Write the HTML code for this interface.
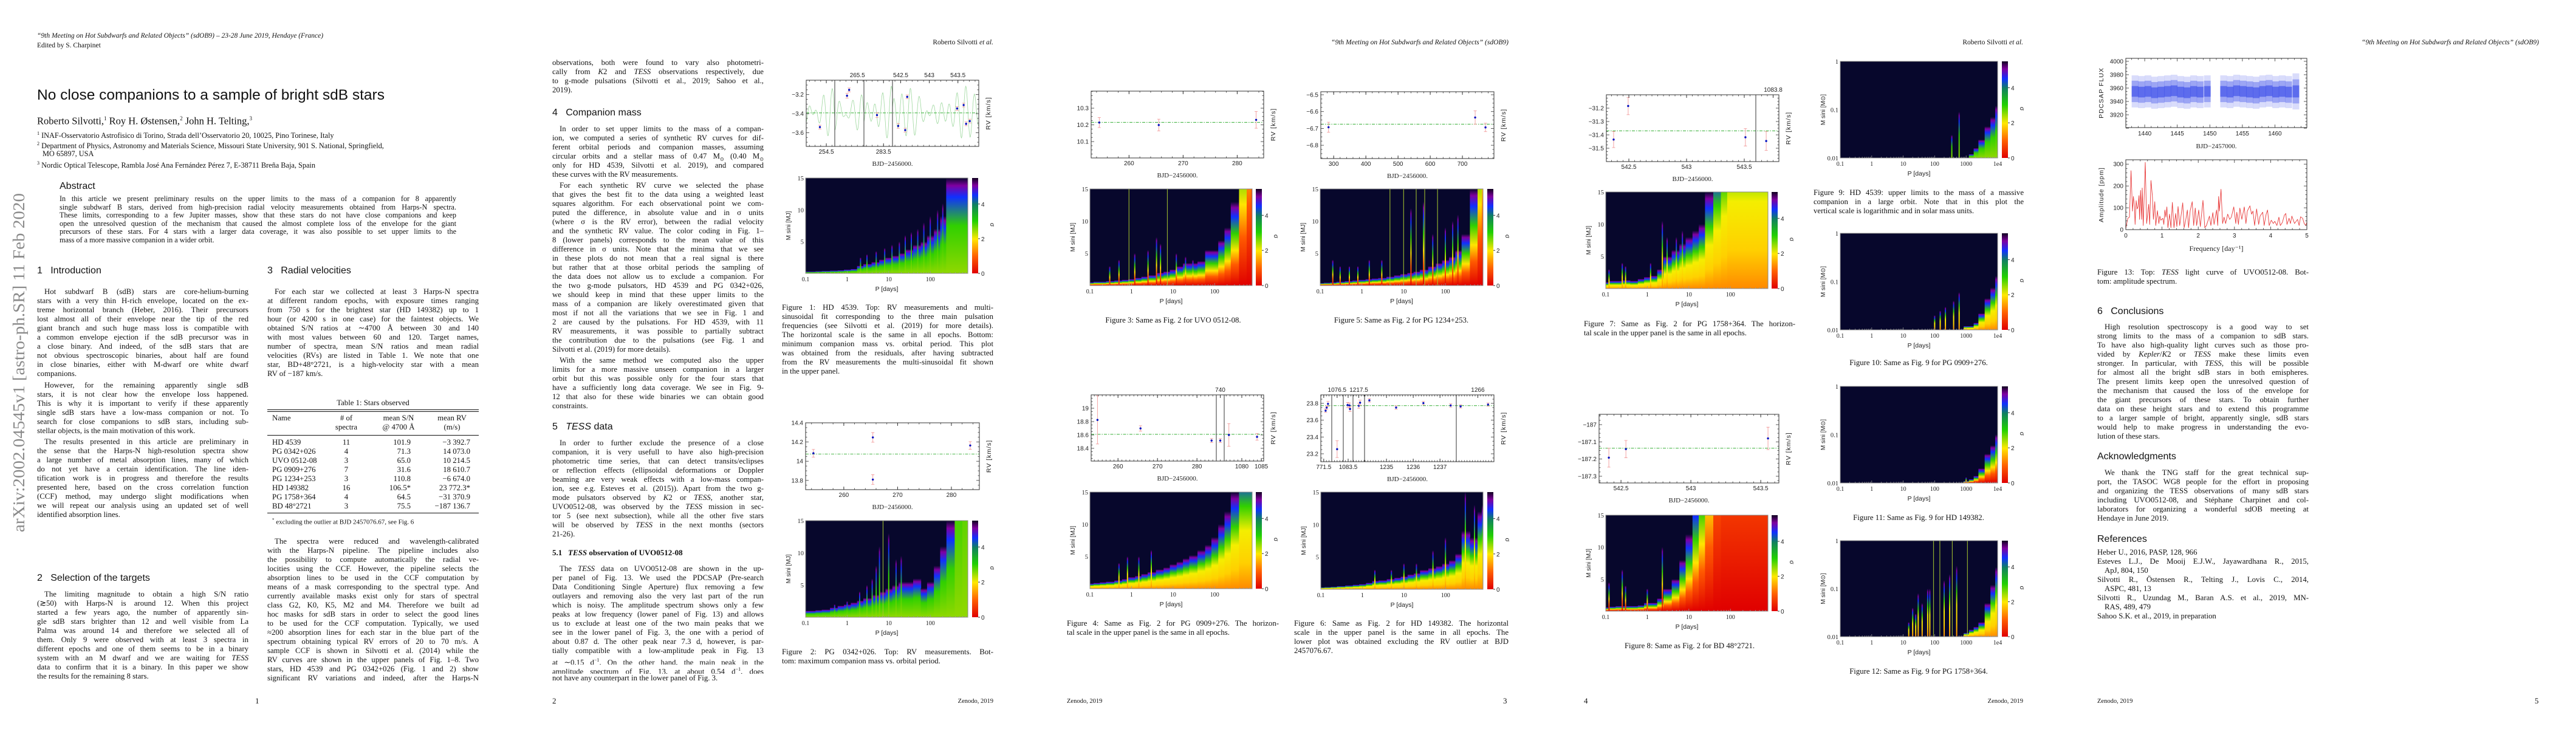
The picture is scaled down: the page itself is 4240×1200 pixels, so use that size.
<!DOCTYPE html>
<html><head><meta charset="utf-8"><title>No close companions to a sample of bright sdB stars</title>
<style>
html,body{margin:0;padding:0;background:#fff}
body{width:4240px;height:1200px;position:relative;overflow:hidden;font-family:"Liberation Serif",serif;color:#111}
.a{position:absolute;white-space:nowrap}
.blk{position:absolute}
.ln{height:15px;line-height:15px;font-size:12.8px;overflow:hidden;text-align:justify;text-align-last:justify}
.ln.e{text-align-last:left}
.ln.i{text-indent:12px}
.ab .ln{height:13.6px;line-height:13.6px;font-size:12.2px}
.sec{position:absolute;font-family:"Liberation Sans",sans-serif;font-size:16px;white-space:nowrap;line-height:18px}
.hdr{position:absolute;font-style:italic;font-size:11.5px;white-space:nowrap;line-height:14px}
.ft{position:absolute;font-size:10.5px;white-space:nowrap;line-height:12px}
.pn{position:absolute;font-size:13px;line-height:14px}
.tb{position:absolute;font-size:12.8px;line-height:15px;white-space:nowrap}
svg#charts{position:absolute;left:0;top:0}
</style></head>
<body>
<svg id="charts" width="4240" height="1200" style="font-family:'Liberation Sans',sans-serif">
<defs>
<linearGradient id="gr-r" x1="0" y1="1" x2="0" y2="0"><stop offset="0" stop-color="#e00000"/><stop offset=".25" stop-color="#ff5a00"/><stop offset=".42" stop-color="#ffe400"/><stop offset=".62" stop-color="#30d000"/><stop offset=".82" stop-color="#1030ff"/><stop offset=".93" stop-color="#8000a0"/><stop offset="1" stop-color="#08082e"/></linearGradient>
<linearGradient id="gr-y" x1="0" y1="1" x2="0" y2="0"><stop offset="0" stop-color="#ff8a00"/><stop offset=".2" stop-color="#ffd000"/><stop offset=".45" stop-color="#f4ee00"/><stop offset=".64" stop-color="#30d000"/><stop offset=".83" stop-color="#1030ff"/><stop offset=".93" stop-color="#8000a0"/><stop offset="1" stop-color="#08082e"/></linearGradient>
<linearGradient id="gr-g" x1="0" y1="1" x2="0" y2="0"><stop offset="0" stop-color="#90d800"/><stop offset=".5" stop-color="#30d000"/><stop offset=".8" stop-color="#1030ff"/><stop offset=".92" stop-color="#8000a0"/><stop offset="1" stop-color="#08082e"/></linearGradient>
<linearGradient id="gr-cb" x1="0" y1="1" x2="0" y2="0"><stop offset="0" stop-color="#e00000"/><stop offset=".18" stop-color="#ff6000"/><stop offset=".36" stop-color="#ffe800"/><stop offset=".55" stop-color="#20d000"/><stop offset=".72" stop-color="#108060"/><stop offset=".82" stop-color="#1030ff"/><stop offset=".92" stop-color="#8000a0"/><stop offset="1" stop-color="#100020"/></linearGradient>
</defs>
<text transform="translate(40,876) rotate(-90)" font-family="Liberation Serif, serif" font-size="27" fill="#8a8a8a" textLength="558" lengthAdjust="spacingAndGlyphs">arXiv:2002.04545v1  [astro-ph.SR]  11 Feb 2020</text>
</svg>

<!-- PAGE 1 -->
<div class="hdr" style="left:61px;top:52px">“9th Meeting on Hot Subdwarfs and Related Objects” (sdOB9) – 23-28 June 2019, Hendaye (France)</div>
<div class="a" style="left:61px;top:68px;font-size:11.5px;line-height:14px">Edited by S. Charpinet</div>
<div class="a" style="left:61px;top:142px;font-family:'Liberation Sans',sans-serif;font-size:24.5px;line-height:30px">No close companions to a sample of bright sdB stars</div>
<div class="a" style="left:61px;top:185px;font-size:16.5px;line-height:20px">Roberto Silvotti,<sup style="font-size:9px">1</sup> Roy H. Østensen,<sup style="font-size:9px">2</sup> John H. Telting,<sup style="font-size:9px">3</sup></div>
<div class="blk" style="left:61px;top:213px;font-size:12.3px;line-height:13px">
<div><sup style="font-size:8px">1</sup> INAF-Osservatorio Astrofisico di Torino, Strada dell’Osservatorio 20, 10025, Pino Torinese, Italy</div>
<div><sup style="font-size:8px">2</sup> Department of Physics, Astronomy and Materials Science, Missouri State University, 901 S. National, Springfield,</div>
<div style="padding-left:9px">MO 65897, USA</div>
<div style="margin-top:2px"><sup style="font-size:8px">3</sup> Nordic Optical Telescope, Rambla José Ana Fernández Pérez 7, E-38711 Breña Baja, Spain</div>
</div>
<div class="sec" style="left:98px;top:298px">Abstract</div>
<div class="blk ab" style="left:98px;top:321px;width:653px">
<div class="ln">In this article we present preliminary results on the upper limits to the mass of a companion for 8 apparently</div>
<div class="ln">single subdwarf B stars, derived from high-precision radial velocity measurements obtained from Harps-N spectra.</div>
<div class="ln">These limits, corresponding to a few Jupiter masses, show that these stars do not have close companions and keep</div>
<div class="ln">open the unresolved question of the mechanism that caused the almost complete loss of the envelope for the giant</div>
<div class="ln">precursors of these stars. For 4 stars with a larger data coverage, it was also possible to set upper limits to the</div>
<div class="ln e">mass of a more massive companion in a wider orbit.</div>
</div>

<div class="sec" style="left:61px;top:437px">1&nbsp;&nbsp;&nbsp;Introduction</div>
<div class="blk" style="left:61px;top:473px;width:348px">
<div class="ln i">Hot subdwarf B (sdB) stars are core-helium-burning</div>
<div class="ln">stars with a very thin H-rich envelope, located on the ex-</div>
<div class="ln">treme horizontal branch (Heber, 2016). Their precursors</div>
<div class="ln">lost almost all of their envelope near the tip of the red</div>
<div class="ln">giant branch and such huge mass loss is compatible with</div>
<div class="ln">a common envelope ejection if the sdB precursor was in</div>
<div class="ln">a close binary. And indeed, of the sdB stars that are</div>
<div class="ln">not obvious spectroscopic binaries, about half are found</div>
<div class="ln">in close binaries, either with M-dwarf ore white dwarf</div>
<div class="ln e">companions.</div>
<div class="ln i" style="margin-top:4px">However, for the remaining apparently single sdB</div>
<div class="ln">stars, it is not clear how the envelope loss happened.</div>
<div class="ln">This is why it is important to verify if these apparently</div>
<div class="ln">single sdB stars have a low-mass companion or not. To</div>
<div class="ln">search for close companions to sdB stars, including sub-</div>
<div class="ln e">stellar objects, is the main motivation of this work.</div>
<div class="ln i" style="margin-top:3px">The results presented in this article are preliminary in</div>
<div class="ln">the sense that the Harps-N high-resolution spectra show</div>
<div class="ln">a large number of metal absorption lines, many of which</div>
<div class="ln">do not yet have a certain identification. The line iden-</div>
<div class="ln">tification work is in progress and therefore the results</div>
<div class="ln">presented here, based on the cross correlation function</div>
<div class="ln">(CCF) method, may undergo slight modifications when</div>
<div class="ln">we will repeat our analysis using an updated set of well</div>
<div class="ln e">identified absorption lines.</div>
</div>
<div class="sec" style="left:61px;top:943px">2&nbsp;&nbsp;&nbsp;Selection of the targets</div>
<div class="blk" style="left:61px;top:971px;width:348px">
<div class="ln i">The limiting magnitude to obtain a high S/N ratio</div>
<div class="ln">(≳50) with Harps-N is around 12. When this project</div>
<div class="ln">started a few years ago, the number of apparently sin-</div>
<div class="ln">gle sdB stars brighter than 12 and well visible from La</div>
<div class="ln">Palma was around 14 and therefore we selected all of</div>
<div class="ln">them. Only 9 were observed with at least 3 spectra in</div>
<div class="ln">different epochs and one of them seems to be in a binary</div>
<div class="ln">system with an M dwarf and we are waiting for <i>TESS</i></div>
<div class="ln">data to confirm that it is a binary. In this paper we show</div>
<div class="ln e">the results for the remaining 8 stars.</div>
</div>

<div class="sec" style="left:440px;top:437px">3&nbsp;&nbsp;&nbsp;Radial velocities</div>
<div class="blk" style="left:440px;top:473px;width:348px">
<div class="ln i">For each star we collected at least 3 Harps-N spectra</div>
<div class="ln">at different random epochs, with exposure times ranging</div>
<div class="ln">from 750 s for the brightest star (HD 149382) up to 1</div>
<div class="ln">hour (or 4200 s in one case) for the faintest objects. We</div>
<div class="ln">obtained S/N ratios at ∼4700 Å between 30 and 140</div>
<div class="ln">with most values between 60 and 120. Target names,</div>
<div class="ln">number of spectra, mean S/N ratios and mean radial</div>
<div class="ln">velocities (RVs) are listed in Table 1. We note that one</div>
<div class="ln">star, BD+48°2721, is a high-velocity star with a mean</div>
<div class="ln e">RV of −187 km/s.</div>
</div>
<div class="tb" style="left:440px;width:348px;top:656px;text-align:center">Table 1: Stars observed</div>
<div class="a" style="left:440px;top:674px;width:348px;height:1px;background:#111"></div>
<div class="a" style="left:440px;top:677px;width:348px;height:1px;background:#111"></div>
<div class="tb" style="left:448px;top:681px">Name</div>
<div class="tb" style="left:530px;width:80px;top:681px;text-align:center"># of<br>spectra</div>
<div class="tb" style="left:616px;width:80px;top:681px;text-align:center">mean S/N<br>@ 4700 Å</div>
<div class="tb" style="left:704px;width:80px;top:681px;text-align:center">mean RV<br>(m/s)</div>
<div class="a" style="left:440px;top:716px;width:348px;height:1px;background:#111"></div>
<div class="tb" style="left:448px;top:721px">HD 4539<br>PG 0342+026<br>UVO 0512-08<br>PG 0909+276<br>PG 1234+253<br>HD 149382<br>PG 1758+364<br>BD 48°2721</div>
<div class="tb" style="left:550px;width:40px;top:721px;text-align:center">11<br>4<br>3<br>7<br>3<br>16<br>4<br>3</div>
<div class="tb" style="left:610px;width:66px;top:721px;text-align:right">101.9<br>71.3<br>65.0<br>31.6<br>110.8<br>106.5*<br>64.5<br>75.5</div>
<div class="tb" style="left:690px;width:84px;top:721px;text-align:right">−3 392.7<br>14 073.0<br>10 214.5<br>18 610.7<br>−6 674.0<br>23 772.3*<br>−31 370.9<br>−187 136.7</div>
<div class="a" style="left:440px;top:844px;width:348px;height:1px;background:#111"></div>
<div class="a" style="left:448px;top:850px;font-size:11px;line-height:12px"><sup style="font-size:7px">*</sup> excluding the outlier at BJD 2457076.67, see Fig. 6</div>
<div class="blk" style="left:440px;top:884px;width:348px">
<div class="ln i">The spectra were reduced and wavelength-calibrated</div>
<div class="ln">with the Harps-N pipeline. The pipeline includes also</div>
<div class="ln">the possibility to compute automatically the radial ve-</div>
<div class="ln">locities using the CCF. However, the pipeline selects the</div>
<div class="ln">absorption lines to be used in the CCF computation by</div>
<div class="ln">means of a mask corresponding to the spectral type. And</div>
<div class="ln">currently available masks exist only for stars of spectral</div>
<div class="ln">class G2, K0, K5, M2 and M4. Therefore we built ad</div>
<div class="ln">hoc masks for sdB stars in order to select the good lines</div>
<div class="ln">to be used for the CCF computation. Typically, we used</div>
<div class="ln">≈200 absorption lines for each star in the blue part of the</div>
<div class="ln">spectrum obtaining typical RV errors of 20 to 70 m/s. A</div>
<div class="ln">sample CCF is shown in Silvotti et al. (2014) while the</div>
<div class="ln">RV curves are shown in the upper panels of Fig. 1–8. Two</div>
<div class="ln">stars, HD 4539 and PG 0342+026 (Fig. 1 and 2) show</div>
<div class="ln">significant RV variations and indeed, after the Harps-N</div>
</div>
<div class="pn" style="left:420px;top:1147px">1</div>

<!-- PAGE 2 -->
<div class="hdr" style="right:2605px;top:63px"><span style="font-style:normal">Roberto Silvotti</span> et al.</div>
<div class="blk" style="left:909px;top:96px;width:348px">
<div class="ln">observations, both were found to vary also photometri-</div>
<div class="ln">cally from <i>K</i>2 and <i>TESS</i> observations respectively, due</div>
<div class="ln">to g-mode pulsations (Silvotti et al., 2019; Sahoo et al.,</div>
<div class="ln e">2019).</div>
</div>
<div class="sec" style="left:909px;top:177px">4&nbsp;&nbsp;&nbsp;Companion mass</div>
<div class="blk" style="left:909px;top:205px;width:348px">
<div class="ln i">In order to set upper limits to the mass of a compan-</div>
<div class="ln">ion, we computed a series of synthetic RV curves for dif-</div>
<div class="ln">ferent orbital periods and companion masses, assuming</div>
<div class="ln">circular orbits and a stellar mass of 0.47 M<sub style="font-size:8px">⊙</sub> (0.40 M<sub style="font-size:8px">⊙</sub></div>
<div class="ln">only for HD 4539, Silvotti et al. 2019), and compared</div>
<div class="ln e">these curves with the RV measurements.</div>
<div class="ln i" style="margin-top:3px">For each synthetic RV curve we selected the phase</div>
<div class="ln">that gives the best fit to the data using a weighted least</div>
<div class="ln">squares algorithm. For each observational point we com-</div>
<div class="ln">puted the difference, in absolute value and in σ units</div>
<div class="ln">(where σ is the RV error), between the radial velocity</div>
<div class="ln">and the synthetic RV value. The color coding in Fig. 1–</div>
<div class="ln">8 (lower panels) corresponds to the mean value of this</div>
<div class="ln">difference in σ units. Note that the minima that we see</div>
<div class="ln">in these plots do not mean that a real signal is there</div>
<div class="ln">but rather that at those orbital periods the sampling of</div>
<div class="ln">the data does not allow us to exclude a companion. For</div>
<div class="ln">the two g-mode pulsators, HD 4539 and PG 0342+026,</div>
<div class="ln">we should keep in mind that these upper limits to the</div>
<div class="ln">mass of a companion are likely overestimated given that</div>
<div class="ln">most if not all the variations that we see in Fig. 1 and</div>
<div class="ln">2 are caused by the pulsations. For HD 4539, with 11</div>
<div class="ln">RV measurements, it was possible to partially subtract</div>
<div class="ln">the contribution due to the pulsations (see Fig. 1 and</div>
<div class="ln e">Silvotti et al. (2019) for more details).</div>
<div class="ln i" style="margin-top:3px">With the same method we computed also the upper</div>
<div class="ln">limits for a more massive unseen companion in a larger</div>
<div class="ln">orbit but this was possible only for the four stars that</div>
<div class="ln">have a sufficiently long data coverage. We see in Fig. 9-</div>
<div class="ln">12 that also for these wide binaries we can obtain good</div>
<div class="ln e">constraints.</div>
</div>
<div class="sec" style="left:909px;top:694px">5&nbsp;&nbsp;&nbsp;<i>TESS</i> data</div>
<div class="blk" style="left:909px;top:722px;width:348px">
<div class="ln i">In order to further exclude the presence of a close</div>
<div class="ln">companion, it is very usefull to have also high-precision</div>
<div class="ln">photometric time series, that can detect transits/eclipses</div>
<div class="ln">or reflection effects (ellipsoidal deformations or Doppler</div>
<div class="ln">beaming are very weak effects with a low-mass compan-</div>
<div class="ln">ion, see e.g. Esteves et al. (2015)). Apart from the two g-</div>
<div class="ln">mode pulsators observed by <i>K</i>2 or <i>TESS</i>, another star,</div>
<div class="ln">UVO0512-08, was observed by the <i>TESS</i> mission in sec-</div>
<div class="ln">tor 5 (see next subsection), while all the other five stars</div>
<div class="ln">will be observed by <i>TESS</i> in the next months (sectors</div>
<div class="ln e">21-26).</div>
</div>
<div class="a" style="left:909px;top:902px;font-size:13px;font-weight:bold;line-height:16px">5.1&nbsp;&nbsp;&nbsp;<i>TESS</i> observation of UVO0512-08</div>
<div class="blk" style="left:909px;top:929px;width:348px">
<div class="ln i">The <i>TESS</i> data on UVO0512-08 are shown in the up-</div>
<div class="ln">per panel of Fig. 13. We used the PDCSAP (Pre-search</div>
<div class="ln">Data Conditioning Single Aperture) flux removing a few</div>
<div class="ln">outlayers and removing also the very last part of the run</div>
<div class="ln">which is noisy. The amplitude spectrum shows only a few</div>
<div class="ln">peaks at low frequency (lower panel of Fig. 13) and allows</div>
<div class="ln">us to exclude at least one of the two main peaks that we</div>
<div class="ln">see in the lower panel of Fig. 3, the one with a period of</div>
<div class="ln">about 0.87 d. The other peak near 7.3 d, however, is par-</div>
<div class="ln">tially compatible with a low-amplitude peak in Fig. 13</div>
<div class="ln">at ∼0.15 d<sup style="font-size:8px">−1</sup>. On the other hand, the main peak in the</div>
<div class="ln">amplitude spectrum of Fig. 13, at about 0.54 d<sup style="font-size:8px">−1</sup>, does</div>
<div class="ln e">not have any counterpart in the lower panel of Fig. 3.</div>
</div>
<div class="pn" style="left:909px;top:1147px">2</div>
<div class="blk" style="left:1287px;top:499px;width:348px">
<div class="ln">Figure 1: HD 4539. Top: RV measurements and multi-</div>
<div class="ln">sinusoidal fit corresponding to the three main pulsation</div>
<div class="ln">frequencies (see Silvotti et al. (2019) for more details).</div>
<div class="ln">The horizontal scale is the same in all epochs. Bottom:</div>
<div class="ln">minimum companion mass vs. orbital period. This plot</div>
<div class="ln">was obtained from the residuals, after having subtracted</div>
<div class="ln">from the RV measurements the multi-sinusoidal fit shown</div>
<div class="ln e">in the upper panel.</div>
</div>
<div class="blk" style="left:1287px;top:1066px;width:348px">
<div class="ln">Figure 2: PG 0342+026. Top: RV measurements. Bot-</div>
<div class="ln e">tom: maximum companion mass vs. orbital period.</div>
</div>
<div class="ft" style="right:2605px;top:1149px">Zenodo, 2019</div>

<!-- PAGE 3 -->
<div class="hdr" style="right:1757px;top:63px">“9th Meeting on Hot Subdwarfs and Related Objects” (sdOB9)</div>
<div class="tb" style="left:1756px;width:350px;top:520px;text-align:center">Figure 3: Same as Fig. 2 for UVO 0512-08.</div>
<div class="blk" style="left:1756px;top:1019px;width:349px">
<div class="ln">Figure 4: Same as Fig. 2 for PG 0909+276. The horizon-</div>
<div class="ln e">tal scale in the upper panel is the same in all epochs.</div>
</div>
<div class="tb" style="left:2130px;width:353px;top:520px;text-align:center">Figure 5: Same as Fig. 2 for PG 1234+253.</div>
<div class="blk" style="left:2130px;top:1019px;width:353px">
<div class="ln">Figure 6: Same as Fig. 2 for HD 149382. The horizontal</div>
<div class="ln">scale in the upper panel is the same in all epochs. The</div>
<div class="ln">lower plot was obtained excluding the RV outlier at BJD</div>
<div class="ln e">2457076.67.</div>
</div>
<div class="ft" style="left:1756px;top:1149px">Zenodo, 2019</div>
<div class="pn" style="left:2474px;top:1147px">3</div>

<!-- PAGE 4 -->
<div class="hdr" style="right:910px;top:63px"><span style="font-style:normal">Roberto Silvotti</span> et al.</div>
<div class="blk" style="left:2607px;top:526px;width:348px">
<div class="ln">Figure 7: Same as Fig. 2 for PG 1758+364. The horizon-</div>
<div class="ln e">tal scale in the upper panel is the same in all epochs.</div>
</div>
<div class="tb" style="left:2607px;width:348px;top:1056px;text-align:center">Figure 8: Same as Fig. 2 for BD 48°2721.</div>
<div class="blk" style="left:2985px;top:310px;width:346px">
<div class="ln">Figure 9: HD 4539: upper limits to the mass of a massive</div>
<div class="ln">companion in a large orbit. Note that in this plot the</div>
<div class="ln e">vertical scale is logarithmic and in solar mass units.</div>
</div>
<div class="tb" style="left:2985px;width:346px;top:590px;text-align:center">Figure 10: Same as Fig. 9 for PG 0909+276.</div>
<div class="tb" style="left:2985px;width:346px;top:845px;text-align:center">Figure 11: Same as Fig. 9 for HD 149382.</div>
<div class="tb" style="left:2985px;width:346px;top:1098px;text-align:center">Figure 12: Same as Fig. 9 for PG 1758+364.</div>
<div class="pn" style="left:2607px;top:1147px">4</div>
<div class="ft" style="right:910px;top:1149px">Zenodo, 2019</div>

<!-- PAGE 5 -->
<div class="hdr" style="right:61px;top:63px">“9th Meeting on Hot Subdwarfs and Related Objects” (sdOB9)</div>
<div class="blk" style="left:3452px;top:441px;width:348px">
<div class="ln">Figure 13: Top: <i>TESS</i> light curve of UVO0512-08. Bot-</div>
<div class="ln e">tom: amplitude spectrum.</div>
</div>
<div class="sec" style="left:3452px;top:504px">6&nbsp;&nbsp;&nbsp;Conclusions</div>
<div class="blk" style="left:3452px;top:531px;width:348px">
<div class="ln i">High resolution spectroscopy is a good way to set</div>
<div class="ln">strong limits to the mass of a companion to sdB stars.</div>
<div class="ln">To have also high-quality light curves such as those pro-</div>
<div class="ln">vided by <i>Kepler</i>/<i>K</i>2 or <i>TESS</i> make these limits even</div>
<div class="ln">stronger. In particular, with <i>TESS</i>, this will be possible</div>
<div class="ln">for almost all the bright sdB stars in both emispheres.</div>
<div class="ln">The present limits keep open the unresolved question of</div>
<div class="ln">the mechanism that caused the loss of the envelope for</div>
<div class="ln">the giant precursors of these stars. To obtain further</div>
<div class="ln">data on these height stars and to extend this programme</div>
<div class="ln">to a larger sample of bright, apparently single, sdB stars</div>
<div class="ln">would help to make progress in understanding the evo-</div>
<div class="ln e">lution of these stars.</div>
</div>
<div class="sec" style="left:3452px;top:743px">Acknowledgments</div>
<div class="blk" style="left:3452px;top:771px;width:348px">
<div class="ln i">We thank the TNG staff for the great technical sup-</div>
<div class="ln">port, the TASOC WG8 people for the effort in proposing</div>
<div class="ln">and organizing the TESS observations of many sdB stars</div>
<div class="ln">including UVO0512-08, and Stéphane Charpinet and col-</div>
<div class="ln">laborators for organizing a wonderful sdOB meeting at</div>
<div class="ln e">Hendaye in June 2019.</div>
</div>
<div class="sec" style="left:3452px;top:879px">References</div>
<div class="blk" style="left:3452px;top:902px;width:348px">
<div class="ln e">Heber U., 2016, PASP, 128, 966</div>
<div class="ln">Esteves L.J., De Mooij E.J.W., Jayawardhana R., 2015,</div>
<div class="ln e" style="padding-left:12px">ApJ, 804, 150</div>
<div class="ln">Silvotti R., Östensen R., Telting J., Lovis C., 2014,</div>
<div class="ln e" style="padding-left:12px">ASPC, 481, 13</div>
<div class="ln">Silvotti R., Uzundag M., Baran A.S. et al., 2019, MN-</div>
<div class="ln e" style="padding-left:12px">RAS, 489, 479</div>
<div class="ln e">Sahoo S.K. et al., 2019, in preparation</div>
</div>
<div class="ft" style="left:3452px;top:1149px">Zenodo, 2019</div>
<div class="pn" style="left:4172px;top:1147px">5</div>

<script>
// ---------- RV data (BJD-2456000, km/s) ----------
const fig1Times=[254.386,265.32,265.357,283.386,542.457,542.579,542.614,543.486,543.6,543.643,543.707];
const fig1Rv=[-3.541,-3.212,-3.151,-3.415,-3.529,-3.573,-3.224,-3.346,-3.31,-3.507,-3.478];
const fig1Err=[0.02,0.025,0.02,0.025,0.025,0.02,0.02,0.02,0.02,0.02,0.02];
const fig1Mean=-3.392;
const fig1FitFreq=[7.2,6.3,5.1];
const fig1FitAmp=[0.13,0.09,0.06];
const fig1FitPhase=[0.4,2.1,4.3];
const fig2Times=[254.35,265.4,265.4,283.5];
const fig2Rv=[14.083,14.248,13.809,14.164];
const fig2Err=[0.04,0.05,0.05,0.04];
const fig2Mean=14.075;
const fig3Times=[254.5,265.5,283.5];
const fig3Rv=[10.214,10.199,10.23];
const fig3Err=[0.03,0.035,0.05];
const fig3Mean=10.215;
const fig4Times=[254.8,265.7,283.7,740.0,1076.7,1083.9];
const fig4Rv=[18.825,18.698,18.516,18.516,18.6,18.572];
const fig4Err=[0.36,0.04,0.03,0.03,0.17,0.05];
const fig4Mean=18.61;
const fig5Times=[284,739.6,771.7];
const fig5Rv=[-6.693,-6.635,-6.694];
const fig5Err=[0.03,0.04,0.025];
const fig5Mean=-6.675;
const fig6Times=[771.57,771.61,771.66,1076.5,1083.48,1083.55,1083.57,1217.5,1217.55,1234.36,1235.36,1236.38,1237.4,1265.36,1266.38];
const fig6Rv=[23.713,23.75,23.794,23.255,23.78,23.775,23.733,23.772,23.808,23.836,23.75,23.803,23.775,23.764,23.786];
const fig6Err=[0.02,0.02,0.03,0.1,0.03,0.03,0.03,0.03,0.03,0.02,0.02,0.02,0.02,0.02,0.02];
const fig6Mean=23.773;
const fig7Times=[542.368,542.494,543.51,1083.74];
const fig7Rv=[-31.435,-31.184,-31.418,-31.446];
const fig7Err=[0.06,0.065,0.065,0.07];
const fig7Mean=-31.37;
const fig8Times=[542.413,542.535,543.552];
const fig8Rv=[-187.192,-187.142,-187.08];
const fig8Err=[0.055,0.05,0.065];
const fig8Mean=-187.137;

// ---------- Heatmap data: minimum companion mass (M_J) vs period (days) ----------
const periods=[0.1,0.15,0.2,0.3,0.5,0.7,1,1.5,2,3,5,7,10,15,20,30,50,70,100,150,200,300,500,700,800];
const h1Limit=[0.3,0.3,0.35,0.4,0.45,0.5,0.6,0.7,1.2,1.5,1.8,2.2,2.5,2.8,3.2,3.8,4.5,5,6,7,9,15,15,15,15];
const h1SpikeP=[2.1,3,5,8,12,18,25,35,50,70,100,150,200,250,350,600];
const h1SpikeH=[2.5,3,3.5,4,4.5,5,6,6.5,7,8,9,10,11,15,15,15];
const h2Limit=[1,1,1.1,1.2,1.5,1.8,2,2.3,2.6,3,3.5,4,4.5,5,5.5,5.5,6,4.5,5.5,8,11,15,40,60,80];
const h2SpikeP=[0.5,1,2,3,4,5,6,10,15,20];
const h2SpikeH=[2,2.5,4,5,6,8,11,13,9,9.5];
const h2LineP=[7.3];
const h3Limit=[0.5,0.6,0.6,0.7,0.8,0.9,1,1.2,1.4,1.6,2,2.2,2.5,3,3.5,3.5,3.8,5.5,5.5,7,9,13,30,50,60];
const h3SpikeP=[0.3,0.5,1.2,2.5,4,5,12,20,30,40];
const h3SpikeH=[3,4,5,5.5,7.5,6.5,5,4.5,4,3.8];
const h3LineP=[0.87,7.3];
const h4Limit=[0.8,0.9,1,1.1,1.3,1.5,1.8,2,2.3,2.6,3,3.3,3.8,4.2,4.7,5.2,6,6.8,8,10,12,15,20,20,20];
const h4SpikeP=[0.5,0.8,1.5,3];
const h4SpikeH=[4,5,5,6];
const h5Limit=[0.4,0.45,0.5,0.6,0.7,0.8,0.9,1,1.1,1.2,1.4,1.6,1.8,2,2.2,2.5,3,3.5,4,4.5,5.5,8,15,30,40];
const h5SpikeP=[0.2,0.3,0.5,0.8,1.5,3,15,30,50,100,150,200];
const h5SpikeH=[4,3,3,3,4,4,12,13,8,9,10,11];
const h5LineP=[4.7,10,20,32,65];
const h6Limit=[0.3,0.35,0.4,0.5,0.6,0.7,0.8,1,1.3,1.4,1.6,1.8,2,2.3,2.5,3,3.3,3.6,4,4.5,5.5,9,8,12,13];
const h6SpikeP=[2,5,10,20,50,100,300,500];
const h6SpikeH=[3,3,4,4,6,8,15,13];
const h7Limit=[1,1.2,1.2,1.3,1.2,1.5,1.8,2,3,5,6,7,8,9,10,15,20,25,30,30,30,30,30,30,30];
const h7SpikeP=[0.12,0.25,0.3,1.2,2.3,3,5,7];
const h7SpikeH=[3,4,3.5,4,10.5,8,8,9];
const h8Limit=[0.6,0.7,0.8,0.8,0.8,0.9,1.3,1.3,2,3.5,5,8,12,18,25,40,80,100,100,100,100,100,100,100,100];
const h8SpikeP=[0.12,0.25,0.3,1,2.3];
const h8SpikeH=[4.5,6.5,4,3.5,10];
// large orbits (solar masses)
const widePeriods=[0.1,1,10,100,200,300,500,700,1000,1500,2000,3000,5000,7000,10000];
const w9Limit=[0,0,0,0.004,0.005,0.006,0.007,0.008,0.01,0.012,0.016,0.024,0.045,0.07,0.12];
const w9SpikeP=[350,600];
const w9SpikeH=[0.03,0.09];
const w10Limit=[0,0,0,0,0,0,0.006,0.008,0.012,0.012,0.014,0.022,0.045,0.075,0.13];
const w10SpikeP=[100,150,220,400,600];
const w10SpikeH=[0.02,0.025,0.03,0.04,0.06];
const w11Limit=[0,0,0,0,0,0,0,0.008,0.011,0.012,0.014,0.02,0.04,0.06,0.1];
const w11SpikeP=[1000];
const w11SpikeH=[0.013];
const w12Limit=[0,0,0,0.005,0.006,0.007,0.008,0.009,0.012,0.014,0.016,0.02,0.05,0.12,0.28];
const w12SpikeP=[15,20,25,30,40,60,70,200,300,500];
const w12SpikeH=[0.02,0.04,0.03,0.08,0.05,0.1,0.1,0.15,0.2,0.3];
const w12LineP=[92,146,363,1100];

// ---------- Fig 13 data ----------
const lcTime=[1438.5,1439.5,1440.5,1441.5,1442.5,1443.5,1444.5,1445.5,1446.5,1447.5,1448.5,1449.6,1452.1,1453.1,1454.1,1455.1,1456.1,1457.1,1458.1,1459.1,1460.1,1461.1,1462.1,1463.2];
const lcMean=[3955,3954,3955,3953,3954,3955,3956,3954,3953,3955,3954,3955,3955,3954,3956,3955,3954,3953,3955,3956,3954,3955,3954,3955];
const lcSd=[8,8,8,8,8,8,8,8,8,8,8,8,8,8,8,8,8,8,8,8,8,8,8,9];
const lcBinWidth=1.0;
const ampFreq=[0,.056,.10,.145,.185,.21,.24,.257,.285,.313,.336,.364,.38,.408,.436,.453,.481,.537,.576,.632,.66,.694,.733,.761,.80,.828,.872,.912,.94,.968,1.023,1.051,1.079,1.107,1.135,1.163,1.208,1.247,1.286,1.331,1.376,1.409,1.443,1.488,1.527,1.572,1.611,1.655,1.70,1.734,1.779,1.834,1.874,1.918,1.957,2.013,2.058,2.131,2.181,2.226,2.31,2.349,2.405,2.438,2.461,2.506,2.539,2.562,2.584,2.629,2.673,2.713,2.757,2.813,2.869,2.914,2.981,3.037,3.065,3.11,3.149,3.205,3.272,3.317,3.356,3.428,3.473,3.512,3.557,3.613,3.669,3.708,3.781,3.82,3.876,3.915,3.96,4.016,4.072,4.116,4.172,4.228,4.267,4.323,4.379,4.418,4.452,4.508,4.547,4.586,4.659,4.743,4.787,4.827,4.883,4.927,4.966,5.0];
const ampPpm=[5,52,57,270,85,152,104,24,133,95,104,156,47,180,47,191,19,308,28,116,24,225,156,47,128,19,87,28,62,43,52,24,90,57,104,9,71,9,125,9,74,14,106,19,66,123,9,43,90,9,87,128,19,99,19,90,14,134,9,19,62,19,78,24,47,90,19,152,85,185,28,57,28,71,47,57,104,28,80,24,99,47,104,28,85,109,71,85,19,95,24,62,80,19,71,90,19,43,28,38,19,57,19,33,66,74,24,52,28,62,28,47,19,59,52,28,19,33];

const NS='http://www.w3.org/2000/svg';
const svg=document.getElementById('charts');
function mk(tag,attrs,parent){const e=document.createElementNS(NS,tag);for(const k in attrs)e.setAttribute(k,attrs[k]);(parent||svg).appendChild(e);return e;}
function label(s,x,y,size,anchor,parent,rot){
  const t=mk('text',{x:x,y:y,'font-size':size,'text-anchor':anchor||'middle',fill:'#222'},parent);
  if(rot)t.setAttribute('transform','rotate('+rot+' '+x+' '+y+')');
  t.textContent=s;return t;}
let clipN=0;
function clip(x,y,w,h){const id='cp'+(clipN++);const defs=svg.querySelector('defs');const c=mk('clipPath',{id:id},defs);mk('rect',{x:x,y:y,width:w,height:h},c);return 'url(#'+id+')';}
function fmt(v){return (v<0?'−':'')+Math.abs(v).toString();}

function rvPanel(name,box,segT,segX,yMin,yMax,yTicks,botTicks,topTicks,minorX,times,rvs,errs,mean,fit){
  const g=mk('g',{});
  
  
  const X=t=>{for(let i=0;i<segT.length;i++){const a=segT[i][0],b=segT[i][1];if(t>=a-1e-6&&t<=b+1e-6)return segX[i]+(t-a)/(b-a)*(segX[i+1]-segX[i]);}return null;};
  const Y=v=>box.y1-(v-yMin)/(yMax-yMin)*(box.y1-box.y0);
  const inner=mk('g',{'clip-path':clip(box.x0,box.y0,box.x1-box.x0,box.y1-box.y0)},g);
  if(fit){
    for(let s=0;s<segT.length;s++){
      let d='';const n=220;
      for(let k=0;k<=n;k++){const t=segT[s][0]+(segT[s][1]-segT[s][0])*k/n;let v=mean;for(let j=0;j<fit.f.length;j++)v+=fit.a[j]*Math.sin(2*Math.PI*fit.f[j]*t+fit.p[j]);d+=(k?'L':'M')+X(t).toFixed(1)+' '+Y(v).toFixed(1);}
      const fp=mk('path',{d:d,fill:'none',stroke:'#9ed89e','stroke-width':0.8},inner);
      
      
    }
  }
  const ml=mk('line',{x1:box.x0,x2:box.x1,y1:Y(mean),y2:Y(mean),stroke:'#4cb84c','stroke-width':1.1,'stroke-dasharray':'5 2 1.5 2'},inner);
  
  
  for(let i=0;i<times.length;i++){
    const x=X(times[i]);if(x===null)continue;
    const yt=Y(rvs[i]+errs[i]),yb=Y(rvs[i]-errs[i]);
    const eb=mk('path',{d:'M'+x+' '+yt+'V'+yb+'M'+(x-2.5)+' '+yt+'h5M'+(x-2.5)+' '+yb+'h5',stroke:'#f29a9a','stroke-width':0.9,fill:'none'},inner);
    
    
    const c=mk('circle',{cx:x,cy:Y(rvs[i]),r:1.7,fill:'#0010c0'},inner);
    
    
  }
  mk('rect',{x:box.x0,y:box.y0,width:box.x1-box.x0,height:box.y1-box.y0,fill:'none',stroke:'#333','stroke-width':1},g);
  for(let i=1;i<segX.length-1;i++)mk('line',{x1:segX[i],x2:segX[i],y1:box.y0,y2:box.y1,stroke:'#333','stroke-width':1},g);
  // y ticks
  const yStep=yTicks[1]-yTicks[0];
  for(let v=yTicks[0]-yStep;v<=yMax+1e-9;v+=yStep/4){if(v<yMin-1e-9)continue;const y=Y(v);const major=yTicks.some(t=>Math.abs(t-v)<1e-6);const L=major?5:2.5;
    mk('line',{x1:box.x0,x2:box.x0+L,y1:y,y2:y,stroke:'#333','stroke-width':0.8},g);mk('line',{x1:box.x1,x2:box.x1-L,y1:y,y2:y,stroke:'#333','stroke-width':0.8},g);}
  yTicks.forEach(v=>{const t=label(fmt(v),box.x0-4,Y(v)+3.5,10,'end',g);});
  // x ticks
  for(let s=0;s<segT.length;s++){const a=segT[s][0],b=segT[s][1];
    for(let v=Math.ceil(a/minorX)*minorX;v<=b;v+=minorX){const x=X(v);mk('line',{x1:x,x2:x,y1:box.y1,y2:box.y1-2.5,stroke:'#333','stroke-width':0.8},g);mk('line',{x1:x,x2:x,y1:box.y0,y2:box.y0+2.5,stroke:'#333','stroke-width':0.8},g);}}
  botTicks.forEach(v=>{const x=X(v);mk('line',{x1:x,x2:x,y1:box.y1,y2:box.y1-5,stroke:'#333'},g);mk('line',{x1:x,x2:x,y1:box.y0,y2:box.y0+5,stroke:'#333'},g);const t=label(String(v),x,box.y1+12,10,'middle',g);});
  topTicks.forEach(v=>{const x=X(v);mk('line',{x1:x,x2:x,y1:box.y0,y2:box.y0+5,stroke:'#333'},g);const t=label(String(v),x,box.y0-5,10,'middle',g);});
  const xl=label('BJD−2456000.',(box.x0+box.x1)/2,box.y1+32,11,'middle',g);
  
  xl.setAttribute('font-family','Liberation Serif, serif');
  const yl=label('RV  [km/s]',box.x1+19,(box.y0+box.y1)/2,10.5,'middle',g,-90);
  
  yl.setAttribute('letter-spacing','1');
}

function heatmap(name,box,cbx,wide,pMax,ps,lim,spP,spH,lnP,kind){
  const g=mk('g',{});
  
  
  const lx0=-1,lx1=Math.log10(pMax);
  const X=p=>box.x0+(Math.log10(p)-lx0)/(lx1-lx0)*(box.x1-box.x0);
  const Y=wide?(m=>box.y1-(Math.log10(m)+2)/2*(box.y1-box.y0)):(m=>box.y1-m/15*(box.y1-box.y0));
  const inner=mk('g',{'clip-path':clip(box.x0,box.y0,box.x1-box.x0,box.y1-box.y0)},g);
  mk('rect',{x:box.x0,y:box.y0,width:box.x1-box.x0,height:box.y1-box.y0,fill:'#07072c'},inner);
  const grad='url(#gr-'+kind+')';
  for(let i=0;i<ps.length;i++){
    if(wide&&lim[i]<=0.01)continue;
    const xl=i===0?X(ps[0]):X(Math.sqrt(ps[i-1]*ps[i]));
    const xr=i===ps.length-1?box.x1:X(Math.sqrt(ps[i]*ps[i+1]));
    const yt=Y(lim[i]);
    const r=mk('rect',{x:xl.toFixed(1),y:yt.toFixed(1),width:(xr-xl+0.6).toFixed(1),height:(box.y1-yt).toFixed(1),fill:grad},inner);
    
    
  }
  for(let i=0;i<spP.length;i++){
    if(wide&&spH[i]<=0.01)continue;
    const x=X(spP[i]),yt=Y(spH[i]);
    const s=mk('rect',{x:(x-1).toFixed(1),y:yt.toFixed(1),width:2,height:(box.y1-yt).toFixed(1),fill:grad},inner);
    
    
  }
  (lnP||[]).forEach(p=>{const x=X(p);const l=mk('line',{x1:x,x2:x,y1:box.y0,y2:box.y1,stroke:'#a8c830','stroke-width':1.2,opacity:0.85},inner);
    
    });
  mk('rect',{x:box.x0,y:box.y0,width:box.x1-box.x0,height:box.y1-box.y0,fill:'none',stroke:'#888','stroke-width':1},g);
  // x ticks (log minor)
  for(let d=-1;d<Math.ceil(lx1);d++){for(let m=1;m<10;m++){const p=m*Math.pow(10,d);if(p>pMax*1.0001)break;const x=X(p);mk('line',{x1:x,x2:x,y1:box.y1,y2:box.y1-(m===1?4:2),stroke:'#999','stroke-width':0.8},g);}}
  const xt=wide?[0.1,1,10,100,1000,10000]:[0.1,1,10,100];
  xt.forEach(p=>{const t=label(p===10000?'1e4':String(p),X(p),box.y1+13,10,'middle',g);t.setAttribute('font-family','Liberation Serif, serif');});
  const yt=wide?[0.01,0.1,1]:[5,10,15];
  yt.forEach(m=>{const t=label(String(m),box.x0-3,Y(m)+4,10.5,'end',g);t.setAttribute('font-family','Liberation Serif, serif');});
  const xl=label('P [days]',(box.x0+box.x1)/2,box.y1+29,10.5,'middle',g);
  
  const yl=label(wide?'M sini [M⊙]':'M sini [MJ]',box.x0-25,(box.y0+box.y1)/2,10,'middle',g,-90);
  
  // colour bar
  const cb=mk('rect',{x:cbx,y:box.y0,width:10,height:box.y1-box.y0,fill:'url(#gr-cb)'},g);
  
  
  const C=v=>box.y1-v/5.5*(box.y1-box.y0);
  [0,2,4].forEach(v=>{mk('line',{x1:cbx+10,x2:cbx+13,y1:C(v),y2:C(v),stroke:'#333'},g);const t=label(String(v),cbx+15,C(v)+4,10,'start',g);});
  const sg=label('σ',cbx+30,C(2.8),10,'middle',g,90);
  
}

// RV panels
rvPanel('fig1-rv-panel',{x0:1327,x1:1611,y0:132,y1:241},[[254.143,254.65],[265.107,265.614],[283.157,283.657],[542.357,543.864]],[1327,1374,1422,1469,1611],-3.744,-3.049,[-3.6,-3.4,-3.2],[254.5,283.5],[265.5,542.5,543,543.5],0.1,fig1Times,fig1Rv,fig1Err,fig1Mean,{f:fig1FitFreq,a:fig1FitAmp,p:fig1FitPhase});
rvPanel('fig2-rv-panel',{x0:1326,x1:1612,y0:696,y1:806},[[252.9,285.2]],[1326,1612],13.704,14.4,[13.8,14,14.2,14.4],[260,270,280],[],2,fig2Times,fig2Rv,fig2Err,fig2Mean,null);
rvPanel('fig3-rv-panel',{x0:1796,x1:2080,y0:150,y1:260},[[253,284.9]],[1796,2080],10.002,10.402,[10.1,10.2,10.3],[260,270,280],[],2,fig3Times,fig3Rv,fig3Err,fig3Mean,null);
rvPanel('fig4-rv-panel',{x0:1796,x1:2080,y0:650,y1:759},[[253.2,284.9],[739,741],[1075.5,1085.6]],[1796,2002,2015,2080],18.209,19.2,[18.4,18.6,18.8,19],[260,270,280,1080,1085],[740],1,fig4Times,fig4Rv,fig4Err,fig4Mean,null);
rvPanel('fig5-rv-panel',{x0:2174,x1:2459,y0:151,y1:261},[[260,798]],[2174,2459],-6.879,-6.482,[-6.8,-6.7,-6.6,-6.5],[300,400,500,600,700],[],20,fig5Times,fig5Rv,fig5Err,fig5Mean,null);
rvPanel('fig6-rv-panel',{x0:2174,x1:2459,y0:650,y1:760},[[771.39,771.8],[1076.3,1076.73],[1083.32,1083.68],[1217.28,1217.72],[1234.18,1237.61],[1265.2,1266.6]],[2174,2192,2211,2227,2246,2397,2459],23.106,23.901,[23.2,23.4,23.6,23.8],[771.5,1083.5,1235,1236,1237],[1076.5,1217.5,1266],0.1,fig6Times,fig6Rv,fig6Err,fig6Mean,null);
rvPanel('fig7-rv-panel',{x0:2644,x1:2928,y0:156,y1:266},[[542.305,543.6],[1083.65,1083.85]],[2644,2890,2928],-31.6,-31.1,[-31.5,-31.4,-31.3,-31.2],[542.5,543,543.5],[1083.8],0.05,fig7Times,fig7Rv,fig7Err,fig7Mean,null);
rvPanel('fig8-rv-panel',{x0:2632,x1:2928,y0:682,y1:795},[[542.343,543.63]],[2632,2928],-187.339,-186.94,[-187.3,-187.2,-187.1,-187],[542.5,543,543.5],[],0.05,fig8Times,fig8Rv,fig8Err,fig8Mean,null);

// Heatmaps
heatmap('fig1-mass-map',{x0:1326,x1:1593,y0:293,y1:450},1600,false,800,periods,h1Limit,h1SpikeP,h1SpikeH,[],'g');
heatmap('fig2-mass-map',{x0:1326,x1:1593,y0:857,y1:1016},1600,false,800,periods,h2Limit,h2SpikeP,h2SpikeH,h2LineP,'g');
heatmap('fig3-mass-map',{x0:1794,x1:2061,y0:311,y1:470},2067,false,800,periods,h3Limit,h3SpikeP,h3SpikeH,h3LineP,'r');
heatmap('fig4-mass-map',{x0:1794,x1:2061,y0:810,y1:969},2067,false,800,periods,h4Limit,h4SpikeP,h4SpikeH,[],'y');
heatmap('fig5-mass-map',{x0:2173,x1:2441,y0:311,y1:470},2448,false,800,periods,h5Limit,h5SpikeP,h5SpikeH,h5LineP,'r');
heatmap('fig6-mass-map',{x0:2174,x1:2441,y0:810,y1:970},2448,false,800,periods,h6Limit,h6SpikeP,h6SpikeH,[],'y');
heatmap('fig7-mass-map',{x0:2643,x1:2910,y0:316,y1:475},2916,false,800,periods,h7Limit,h7SpikeP,h7SpikeH,[],'y');
heatmap('fig8-mass-map',{x0:2643,x1:2910,y0:848,y1:1006},2916,false,800,periods,h8Limit,h8SpikeP,h8SpikeH,[],'r');
heatmap('fig9-wide-orbit-map',{x0:3029,x1:3288,y0:101,y1:260},3295,true,10000,widePeriods,w9Limit,w9SpikeP,w9SpikeH,[],'g');
heatmap('fig10-wide-orbit-map',{x0:3029,x1:3288,y0:384,y1:543},3295,true,10000,widePeriods,w10Limit,w10SpikeP,w10SpikeH,[],'y');
heatmap('fig11-wide-orbit-map',{x0:3029,x1:3288,y0:636,y1:795},3295,true,10000,widePeriods,w11Limit,w11SpikeP,w11SpikeH,[],'r');
heatmap('fig12-wide-orbit-map',{x0:3029,x1:3288,y0:890,y1:1048},3295,true,10000,widePeriods,w12Limit,w12SpikeP,w12SpikeH,w12LineP,'y');

// Fig 13 light curve
(function(){
  const box={x0:3499,x1:3797,y0:96,y1:210},tMin=1437.1,tMax=1464.9,fMin=3900.9,fMax=4004.5;
  const X=t=>box.x0+(t-tMin)/(tMax-tMin)*(box.x1-box.x0);
  const Y=f=>box.y1-(f-fMin)/(fMax-fMin)*(box.y1-box.y0);
  const g=mk('g',{});
  
  
  for(let i=0;i<lcTime.length;i++){
    const xl=X(lcTime[i]-lcBinWidth/2),w=X(lcTime[i]+lcBinWidth/2)-xl+0.3;
    [[3,0.18],[2,0.35],[1,0.55]].forEach(([k,o])=>{
      const r=mk('rect',{x:xl,y:Y(lcMean[i]+k*lcSd[i]),width:w,height:Y(lcMean[i]-k*lcSd[i])-Y(lcMean[i]+k*lcSd[i]),fill:'#2a3ee8',opacity:o},g);
      
      
    });
  }
  mk('rect',{x:box.x0,y:box.y0,width:box.x1-box.x0,height:box.y1-box.y0,fill:'none',stroke:'#333'},g);
  for(let v=3900;v<=4000;v+=5){const y=Y(v);if(y<box.y0)continue;const L=v%20===0?5:2.5;mk('line',{x1:box.x0,x2:box.x0+L,y1:y,y2:y,stroke:'#333','stroke-width':0.8},g);mk('line',{x1:box.x1,x2:box.x1-L,y1:y,y2:y,stroke:'#333','stroke-width':0.8},g);}
  [3920,3940,3960,3980,4000].forEach(v=>{const t=label(String(v),box.x0-4,Y(v)+3.5,10,'end',g);});
  for(let v=1438;v<=1464;v++){const x=X(v);const L=v%5===0?5:2.5;mk('line',{x1:x,x2:x,y1:box.y1,y2:box.y1-L,stroke:'#333','stroke-width':0.8},g);mk('line',{x1:x,x2:x,y1:box.y0,y2:box.y0+L,stroke:'#333','stroke-width':0.8},g);}
  [1440,1445,1450,1455,1460].forEach(v=>{const t=label(String(v),X(v),box.y1+13,10,'middle',g);});
  const xt=label('BJD−2457000.',(box.x0+box.x1)/2,box.y1+34,11,'middle',g);
  
  xt.setAttribute('font-family','Liberation Serif, serif');
  const yt=label('PDCSAP  FLUX',3462,(box.y0+box.y1)/2,10.5,'middle',g,-90);
  
  yt.setAttribute('letter-spacing','1');
})();
// Fig 13 amplitude spectrum
(function(){
  const box={x0:3499,x1:3797,y0:263,y1:378},aMax=320;
  const X=f=>box.x0+f/5*(box.x1-box.x0);
  const Y=a=>box.y1-a/aMax*(box.y1-box.y0);
  const g=mk('g',{});
  
  
  let d='';
  for(let i=0;i<ampFreq.length;i++)d+=(i?'L':'M')+X(ampFreq[i]).toFixed(1)+' '+Y(ampPpm[i]).toFixed(1);
  const p=mk('path',{d:d,fill:'none',stroke:'#e83a3a','stroke-width':0.9,'stroke-linejoin':'round'},g);
  
  
  mk('rect',{x:box.x0,y:box.y0,width:box.x1-box.x0,height:box.y1-box.y0,fill:'none',stroke:'#333'},g);
  for(let v=0;v<=320;v+=20){const y=Y(v);const L=v%100===0?5:2.5;mk('line',{x1:box.x0,x2:box.x0+L,y1:y,y2:y,stroke:'#333','stroke-width':0.8},g);mk('line',{x1:box.x1,x2:box.x1-L,y1:y,y2:y,stroke:'#333','stroke-width':0.8},g);}
  [0,100,200,300].forEach(v=>{const t=label(String(v),box.x0-4,Y(v)+3.5,10,'end',g);});
  for(let v=0;v<=5.001;v+=0.2){const x=X(v);const L=Math.abs(v-Math.round(v))<1e-6?5:2.5;mk('line',{x1:x,x2:x,y1:box.y1,y2:box.y1-L,stroke:'#333','stroke-width':0.8},g);mk('line',{x1:x,x2:x,y1:box.y0,y2:box.y0+L,stroke:'#333','stroke-width':0.8},g);}
  [0,1,2,3,4,5].forEach(v=>{const t=label(String(v),X(v),box.y1+13,10,'middle',g);});
  const xt=label('Frequency [day⁻¹]',(box.x0+box.x1)/2,box.y1+35,12,'middle',g);
  
  xt.setAttribute('font-family','Liberation Serif, serif');
  const yt=label('Amplitude  [ppm]',3462,(box.y0+box.y1)/2,10.5,'middle',g,-90);
  
  yt.setAttribute('letter-spacing','1');
})();
</script>
</body></html>
